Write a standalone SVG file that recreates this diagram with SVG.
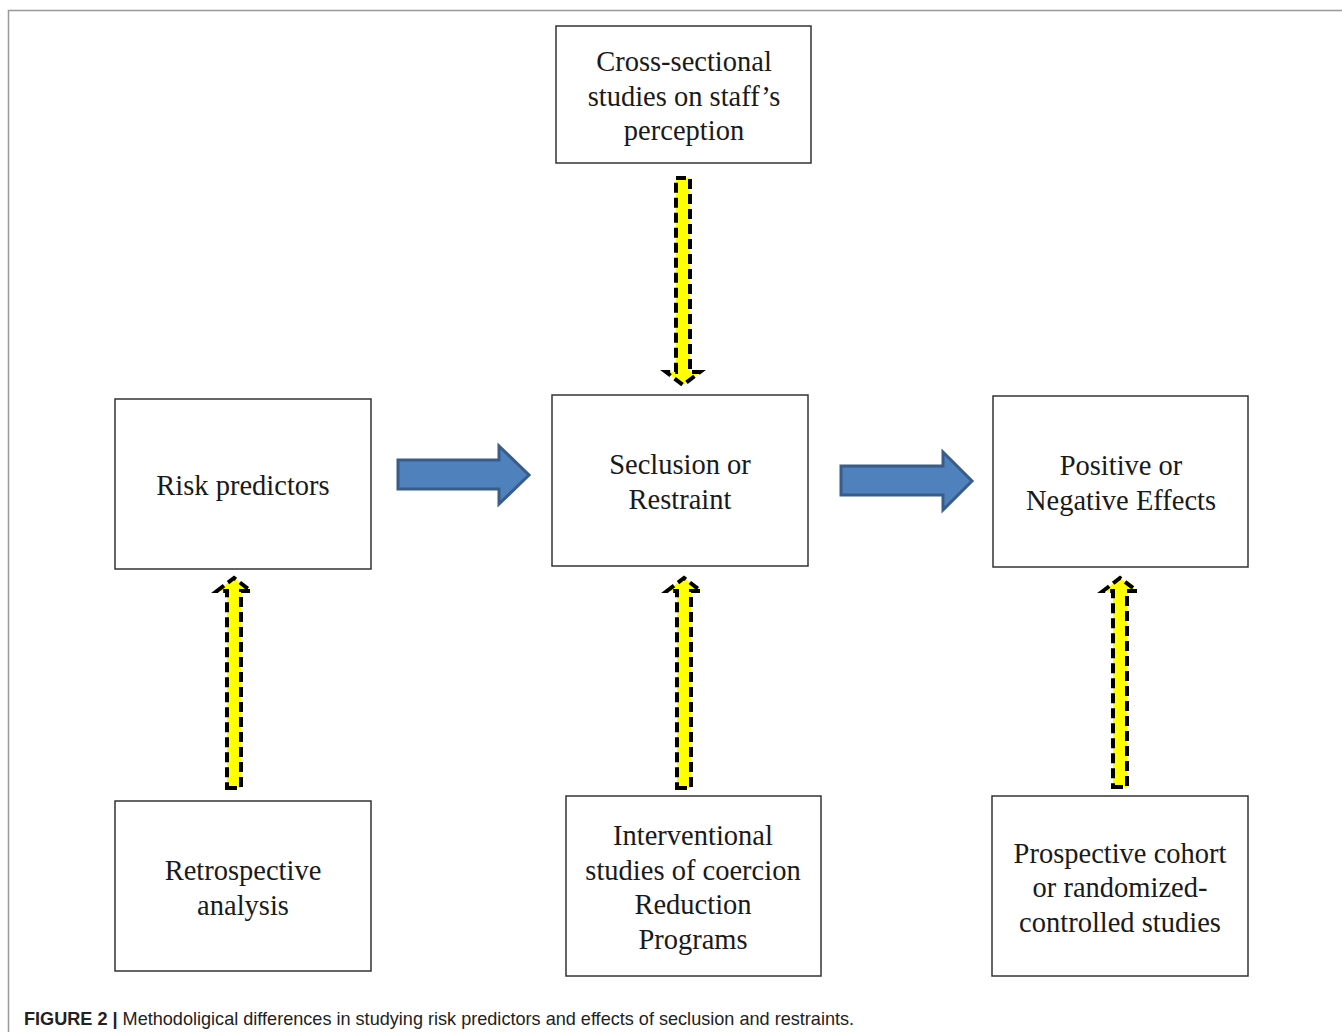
<svg xmlns="http://www.w3.org/2000/svg" width="1342" height="1032" viewBox="0 0 1342 1032">
<style>
.box{fill:#fff;stroke:#333;stroke-width:1.5}
.t{font-family:"Liberation Serif","Times New Roman",serif;font-size:28.5px;fill:#1a1a1a;text-anchor:middle}
.blue{fill:#4F81BD;stroke:#385D8A;stroke-width:3;stroke-linejoin:miter}
.yel{fill:#FFFF00;stroke:#000;stroke-width:4;stroke-dasharray:10 5}
.cap{font-family:"Liberation Sans",Arial,sans-serif;font-size:18.1px;fill:#222}
</style>
<rect width="1342" height="1032" fill="#fff"/>
<path d="M8.5 1032 V10.5 H1342" fill="none" stroke="#999" stroke-width="1.5"/>
<g id="cross">
<rect class="box" x="556" y="26" width="255" height="137"/>
<text class="t" x="684" y="71">Cross-sectional</text>
<text class="t" x="684" y="106">studies on staff’s</text>
<text class="t" x="684" y="140">perception</text>
</g>
<g id="risk">
<rect class="box" x="115" y="399" width="256" height="170"/>
<text class="t" x="243" y="495">Risk predictors</text>
</g>
<g id="seclusion">
<rect class="box" x="552" y="395" width="256" height="171"/>
<text class="t" x="680" y="474">Seclusion or</text>
<text class="t" x="680" y="509">Restraint</text>
</g>
<g id="effects">
<rect class="box" x="993" y="396" width="255" height="171"/>
<text class="t" x="1121" y="475">Positive or</text>
<text class="t" x="1121" y="510">Negative Effects</text>
</g>
<g id="retro">
<rect class="box" x="115" y="801" width="256" height="170"/>
<text class="t" x="243" y="880">Retrospective</text>
<text class="t" x="243" y="915">analysis</text>
</g>
<g id="interv">
<rect class="box" x="566" y="796" width="255" height="180"/>
<text class="t" x="693" y="845">Interventional</text>
<text class="t" x="693" y="880">studies of coercion</text>
<text class="t" x="693" y="914">Reduction</text>
<text class="t" x="693" y="949">Programs</text>
</g>
<g id="prosp">
<rect class="box" x="992" y="796" width="256" height="180"/>
<text class="t" x="1120" y="863">Prospective cohort</text>
<text class="t" x="1120" y="897">or randomized-</text>
<text class="t" x="1120" y="932">controlled studies</text>
</g>
<g id="connectors">
<polygon class="blue" points="398,460 499,460 499,446 529,475 499,504 499,489 398,489"/>
<polygon class="blue" points="841,466 943,466 943,452 972,481 943,510 943,495 841,495"/>
<polygon class="yel" points="676,178 690,178 690,372 700,372 683,385 666,372 676,372"/>
<polygon class="yel" points="227,788 241,788 241,591 251,591 234,578 217,591 227,591"/>
<polygon class="yel" points="677,788 691,788 691,591 701,591 684,578 667,591 677,591"/>
<polygon class="yel" points="1113,787 1127,787 1127,591 1137,591 1120,578 1103,591 1113,591"/>
</g>
<text class="cap" x="24" y="1025"><tspan font-weight="bold">FIGURE 2 | </tspan>Methodoligical differences in studying risk predictors and effects of seclusion and restraints.</text>
</svg>
